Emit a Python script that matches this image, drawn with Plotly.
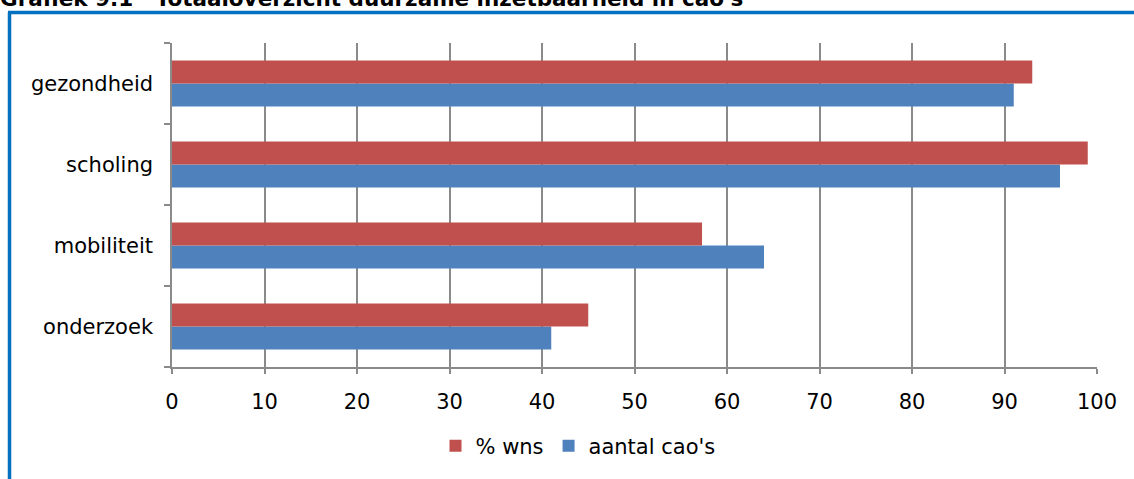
import plotly.graph_objects as go

categories = ["gezondheid", "scholing", "mobiliteit", "onderzoek"]
aantal_caos = [91, 96, 64, 41]
pct_wns = [93, 99, 57.3, 45]
x_ticks = [0, 10, 20, 30, 40, 50, 60, 70, 80, 90, 100]

W, H = 1134, 479
L, R, T, B = 172, 1097, 43, 367
pw, ph = R - L, B - T

def px_x(p):
    return (p - L) / pw

def px_y(p):
    return (B - p) / ph

fig = go.Figure()
fig.add_trace(go.Bar(y=categories, x=aantal_caos, orientation="h", name="aantal cao's",
                     marker=dict(color="#4F81BD", line=dict(width=0))))
fig.add_trace(go.Bar(y=categories, x=pct_wns, orientation="h", name="% wns",
                     marker=dict(color="#C0504D", line=dict(width=0))))

fig.update_layout(
    width=W, height=H,
    margin=dict(l=L, r=W - R, t=T, b=H - B, pad=0),
    paper_bgcolor="white", plot_bgcolor="white",
    barmode="group", bargap=0.43, bargroupgap=0,
    font=dict(family="DejaVu Sans", size=21, color="#000000"),
    showlegend=True,
    legend=dict(orientation="h", traceorder="reversed", x=px_x(578), xanchor="center",
                y=px_y(446), yanchor="middle", font=dict(size=21),
                itemwidth=30, itemsizing="constant"),
    xaxis=dict(range=[0, 100], tickvals=x_ticks, showgrid=True, gridcolor="#8a8a8a", gridwidth=1.5,
               showline=True, linecolor="#8a8a8a", linewidth=1.5, ticks="outside", ticklen=5,
               tickcolor="#8a8a8a", tickwidth=1.5, zeroline=False, fixedrange=True,
               ticklabelstandoff=10, tickfont=dict(size=21)),
    yaxis=dict(categoryorder="array", categoryarray=categories[::-1], showline=True,
               linecolor="#8a8a8a", linewidth=1.5, ticks="outside", ticklen=6, tickcolor="#8a8a8a",
               tickwidth=1.5, tickson="boundaries", showgrid=False, fixedrange=True,
               ticklabelstandoff=13, tickfont=dict(size=21)),
)

# blue frame (left + top)
fig.add_shape(type="line", xref="paper", yref="paper", x0=px_x(9.5), x1=px_x(9.5),
              y0=px_y(12.5), y1=px_y(H + 5), line=dict(color="#0070C0", width=3.5))
fig.add_shape(type="line", xref="paper", yref="paper", x0=px_x(8), x1=px_x(W + 5),
              y0=px_y(12.5), y1=px_y(12.5), line=dict(color="#0070C0", width=3.5))

fig.add_annotation(text="<b>Grafiek 9.1&nbsp;&nbsp;&nbsp;Totaaloverzicht duurzame inzetbaarheid in cao's</b>",
                   xref="paper", yref="paper", x=px_x(-2), xanchor="left",
                   y=px_y(-1.5), yanchor="middle", showarrow=False,
                   font=dict(family="DejaVu Sans", size=21.5, color="#000000"))

fig.write_html("out.html", post_script="document.body.style.margin='0';",
               config={"displayModeBar": False})
